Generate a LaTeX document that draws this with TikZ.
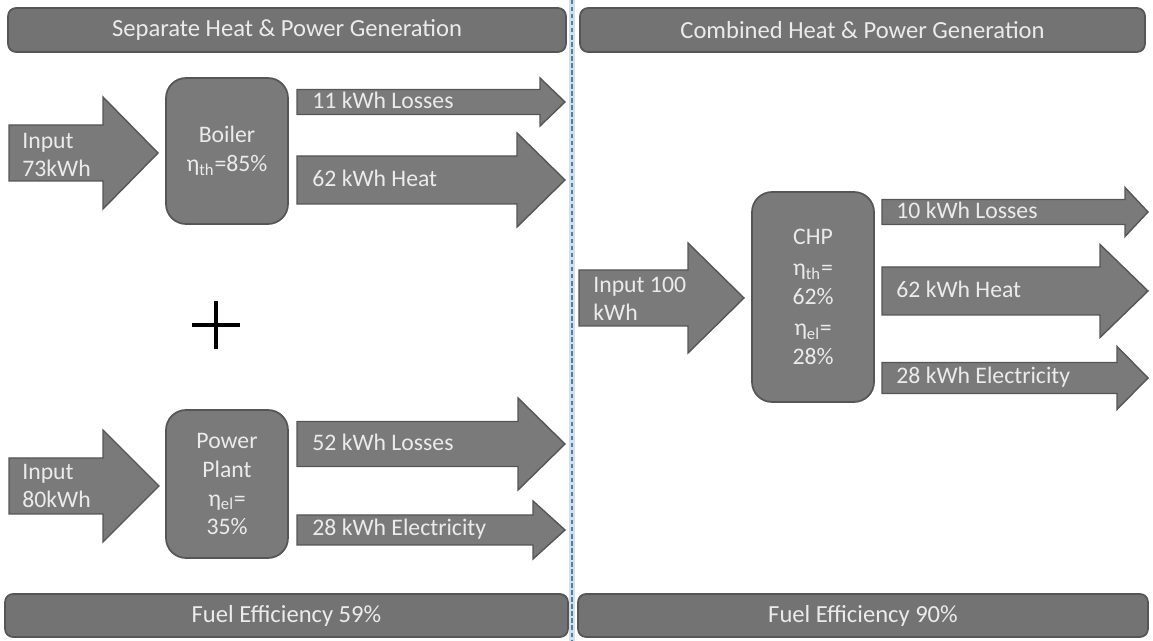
\documentclass[tikz,border=0pt]{standalone}
\usepackage{fontspec}
\setmainfont{Carlito}
\usetikzlibrary{positioning}

\definecolor{blockgray}{HTML}{7A7A7A}
\definecolor{blockedge}{HTML}{565656}
\definecolor{blocktext}{HTML}{EBEBEB}
\definecolor{dividerblue}{HTML}{4F7FA8}

% block arrow: start x, head x, tip x, centre y, shaft half width, head half width
\newcommand{\flowarrow}[6]{%
  \filldraw[flowshape] (#1,{#4-#5}) -- (#2,{#4-#5}) -- (#2,{#4-#6}) -- (#3,#4)
    -- (#2,{#4+#6}) -- (#2,{#4+#5}) -- (#1,{#4+#5}) -- cycle;}

\begin{document}
\begin{tikzpicture}[x=0.02cm, y=-0.02cm,
  every node/.style={font=\fontsize{13.5}{16}\selectfont, text=blocktext},
  flowshape/.style={fill=blockgray, draw=blockedge, line width=0.8pt},
  unitbox/.style={fill=blockgray, draw=blockedge, line width=1pt, rounded corners=0.4cm,
    align=center, minimum width=2.44cm, inner sep=0pt, outer sep=0pt,
    font=\fontsize{13.5}{16.5}\selectfont},
  banner/.style={fill=blockgray!105, draw=blockedge, line width=1pt, rounded corners=0.16cm,
    minimum height=0.88cm, inner sep=0pt, outer sep=0pt, font=\fontsize{14}{16}\selectfont},
  flowtext/.style={anchor=west, text height=0.65em, text depth=0pt, inner sep=0pt},
  intext/.style={anchor=west, align=left, inner sep=0pt}]
  \useasboundingbox (0,0) rectangle (1153,641);

  % divider
  \draw[dividerblue!25, line width=3pt] (572,0) -- (572,641);
  \draw[dividerblue, line width=1.2pt, dash pattern=on 2.5pt off 1.5pt] (572,0) -- (572,641);

  % headers and footers
  \node[banner, minimum width=11.16cm] (hdrsep) at (287,30) {Separate Heat \& Power Generation};
  \node[banner, minimum width=11.3cm] (hdrchp) at (862.5,30) {Combined Heat \& Power Generation};
  \node[banner, minimum width=11.26cm, minimum height=0.86cm] (effsep) at (286.5,615.5) {Fuel Efficiency 59\%};
  \node[banner, minimum width=11.4cm, minimum height=0.86cm] (effchp) at (863,615.5) {Fuel Efficiency 90\%};

  % boiler
  \flowarrow{9}{103}{158}{153}{28}{56}
  \node[intext] (in73) at (22,155) {Input\\73kWh};
  \node[unitbox, minimum height=2.92cm] (boiler) at (227,151) {Boiler\\η\textsubscript{th}=85\%};
  \flowarrow{297}{540}{565}{102}{12.5}{24}
  \node[flowtext] (loss11) at (312,103) {11 kWh Losses};
  \flowarrow{297}{517}{565}{180}{24}{47}
  \node[flowtext] (heat62a) at (312,181) {62 kWh Heat};

  % plus
  \draw[black, line width=2pt] (192,325) -- (240,325);
  \draw[black, line width=2pt] (216,301) -- (216,349);

  % power plant
  \flowarrow{9}{103}{159}{486}{28}{56}
  \node[intext] (in80) at (22,486) {Input\\80kWh};
  \node[unitbox, minimum height=2.96cm] (plant) at (227,484) {Power\\Plant\\η\textsubscript{el}=\\35\%};
  \flowarrow{297}{518}{565}{444}{22.5}{46}
  \node[flowtext] (loss52) at (312,445) {52 kWh Losses};
  \flowarrow{297}{533}{565}{530}{15}{29}
  \node[flowtext] (elec28a) at (312,530) {28 kWh Electricity};

  % chp
  \flowarrow{579}{688}{744}{298}{28}{55}
  \node[intext] (in100) at (593,299) {Input 100\\kWh};
  \node[unitbox, minimum height=4.2cm] (chp) at (813,297)
    {CHP\\[1pt]η\textsubscript{th}=\\62\%\\[1pt]η\textsubscript{el}=\\28\%};
  \flowarrow{882}{1125}{1148}{212}{12.5}{24.5}
  \node[flowtext] (loss10) at (896,213) {10 kWh Losses};
  \flowarrow{882}{1100}{1148}{291}{24}{46.5}
  \node[flowtext] (heat62b) at (896,292) {62 kWh Heat};
  \flowarrow{882}{1117}{1148}{378}{15.5}{31.5}
  \node[flowtext] (elec28b) at (896,378) {28 kWh Electricity};
\end{tikzpicture}
\end{document}
